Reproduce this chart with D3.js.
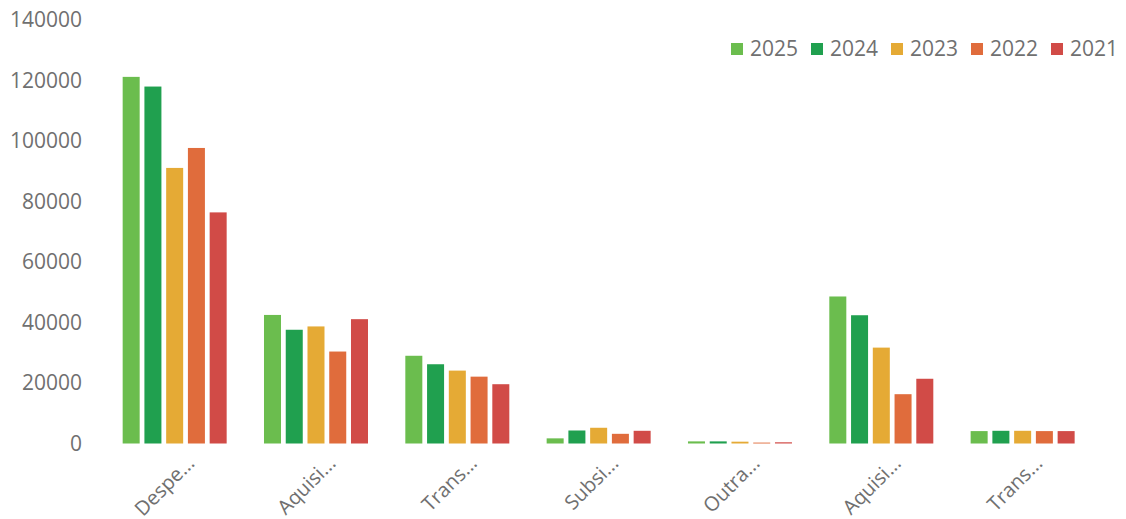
<!DOCTYPE html>
<html><head><meta charset="utf-8">
<script src="https://cdn.jsdelivr.net/npm/d3@7"></script>
<style>html,body{margin:0;padding:0;background:#fff;}svg{display:block;}</style>
</head><body>
<svg id="chart" width="1126" height="519"></svg>
<script>
const categories = ["Despe...", "Aquisi...", "Trans...", "Subsi...", "Outra...", "Aquisi... ", "Trans... "];
const years = ["2025", "2024", "2023", "2022", "2021"];
const colors = ["#6bbd4e", "#20a04f", "#e5aa35", "#e06c3c", "#d14b47"];
const values = {
  "2025": [121200, 42500, 29000, 1700, 700, 48600, 4100],
  "2024": [118000, 37600, 26200, 4300, 700, 42400, 4200],
  "2023": [91100, 38700, 24100, 5200, 600, 31700, 4200],
  "2022": [97700, 30400, 22100, 3200, 300, 16300, 4100],
  "2021": [76400, 41100, 19600, 4200, 400, 21400, 4100]
};
const yTicks = [0, 20000, 40000, 60000, 80000, 100000, 120000, 140000];

const svg = d3.select("#chart");
const font = "'Open Sans', 'DejaVu Sans', sans-serif";
const y = d3.scaleLinear().domain([0, 140000]).range([443.5, 20]);
const x0 = d3.scaleBand().domain(categories).range([104, 1093.3]).padding(0);
const inner = 104;
const x1 = d3.scaleBand().domain(years)
  .range([(x0.bandwidth() - inner) / 2, (x0.bandwidth() + inner) / 2])
  .paddingInner(0.218).paddingOuter(0);
const color = d3.scaleOrdinal().domain(years).range(colors);

// y axis
const yAxis = d3.axisLeft(y).tickValues(yTicks).tickSize(0).tickPadding(0).tickFormat(d3.format("d"));
const gy = svg.append("g").attr("transform", "translate(82,0)").call(yAxis);
gy.select(".domain").remove();
gy.selectAll("text").attr("font-family", font).attr("font-size", 21).attr("fill", "#707070");

// bars
const groups = svg.append("g").selectAll("g").data(categories).join("g")
  .attr("transform", d => `translate(${x0(d)},0)`);
groups.selectAll("rect")
  .data((c, i) => years.map(yr => ({ yr, v: values[yr][i] })))
  .join("rect")
  .attr("x", d => x1(d.yr))
  .attr("width", x1.bandwidth())
  .attr("y", d => y(d.v))
  .attr("height", d => y(0) - y(d.v))
  .attr("fill", d => color(d.yr));

// x axis labels
const xAxis = d3.axisBottom(x0).tickSize(0).tickPadding(0);
const gx = svg.append("g").attr("transform", "translate(0,443.5)").call(xAxis);
gx.select(".domain").remove();
gx.selectAll("text")
  .attr("font-family", font).attr("font-size", 20).attr("fill", "#707070")
  .attr("text-anchor", "end")
  .attr("dy", 0)
  .attr("transform", "translate(21,21) rotate(-45)");

// legend
const legend = svg.append("g").selectAll("g").data(years).join("g")
  .attr("transform", (d, i) => `translate(${731 + i * 80},49)`);
legend.append("rect").attr("x", 0).attr("y", -6).attr("width", 12).attr("height", 12)
  .attr("fill", d => color(d));
legend.append("text").attr("x", 19).attr("y", 0).attr("dy", "0.35em")
  .attr("font-family", font).attr("font-size", 21).attr("fill", "#707070").text(d => d);
</script>
</body></html>
